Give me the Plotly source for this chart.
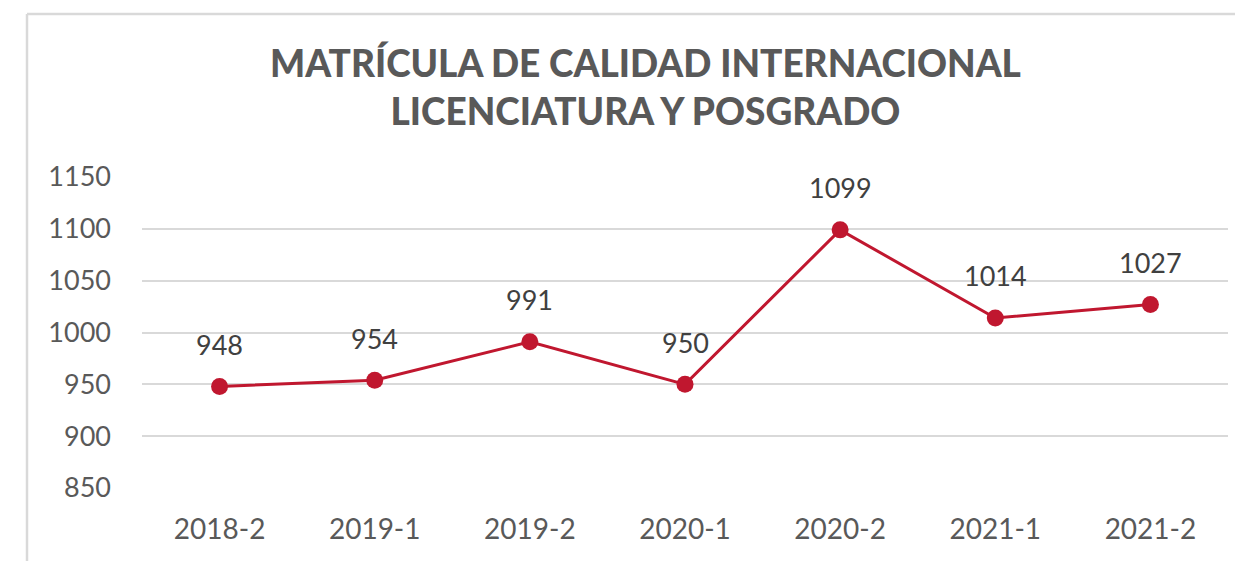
import plotly.graph_objects as go

periods = ["2018-2", "2019-1", "2019-2", "2020-1", "2020-2", "2021-1", "2021-2"]
enrollment = [948, 954, 991, 950, 1099, 1014, 1027]
y_ticks = [850, 900, 950, 1000, 1050, 1100, 1150]

W, H = 1235, 561
ML, MR, MT, MB = 142, 7, 177, 73
pw = W - ML - MR
ph = H - MT - MB

def px_x(p):
    return (p - ML) / pw

def px_y(p):
    return (H - MB - p) / ph

line_color = "#C0172F"

fig = go.Figure()
fig.add_trace(go.Scatter(
    x=periods, y=enrollment, mode="lines+markers",
    line=dict(color=line_color, width=3),
    marker=dict(color=line_color, size=17),
    hoverinfo="x+y", showlegend=False,
))

for p, v in zip(periods, enrollment):
    fig.add_annotation(x=p, y=v, text=str(v), showarrow=False, yshift=42,
                       font=dict(family="Lato", size=27, color="#404040"))

fig.add_annotation(xref="paper", yref="paper", x=px_x(645), y=px_y(86),
                   text="MATRÍCULA DE CALIDAD INTERNACIONAL<br>LICENCIATURA Y POSGRADO",
                   showarrow=False, xanchor="center", yanchor="middle", align="center",
                   font=dict(family="Lato", size=37, color="#595959", weight=900))

# chart frame
fig.add_shape(type="line", xref="paper", yref="paper", x0=px_x(27), x1=px_x(1300),
              y0=px_y(14), y1=px_y(14), line=dict(color="#D9D9D9", width=2.5))
fig.add_shape(type="line", xref="paper", yref="paper", x0=px_x(27), x1=px_x(27),
              y0=px_y(14), y1=px_y(600), line=dict(color="#D9D9D9", width=2.5))

fig.update_layout(
    width=W, height=H,
    margin=dict(l=ML, r=MR, t=MT, b=MB),
    paper_bgcolor="white", plot_bgcolor="white",
    font=dict(family="Lato", color="#595959"),
    xaxis=dict(type="category", range=[-0.5, 6.5], showgrid=False, showline=False,
               ticks="", tickfont=dict(size=28, color="#595959"), ticklabelstandoff=22),
    yaxis=dict(range=[850, 1150], tickvals=y_ticks, showgrid=True, gridcolor="#D9D9D9",
               gridwidth=1.5, zeroline=False, showline=False, ticks="",
               tickfont=dict(size=27, color="#595959"), ticklabelstandoff=30),
)

fig.write_html("out.html", config={"displayModeBar": False},
               post_script="document.body.style.margin='0px';")
